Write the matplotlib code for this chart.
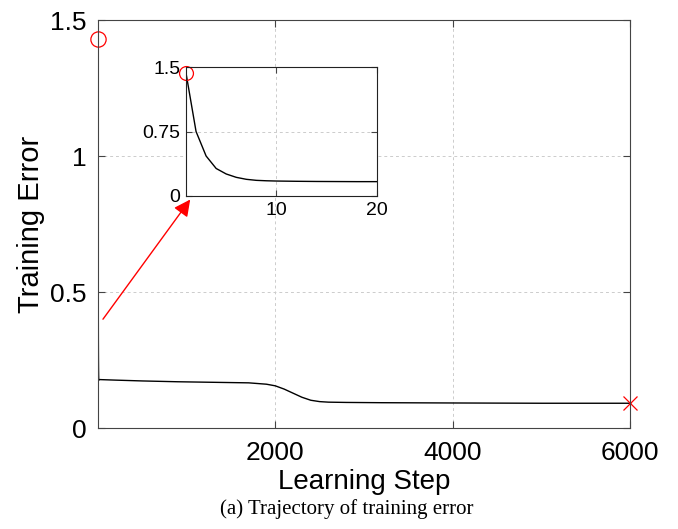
import matplotlib.pyplot as plt

# training error over the full run (readings at selected steps)
steps = [1, 2, 3, 4, 5, 6, 7, 8, 10, 20, 200, 500, 900, 1300, 1700, 1900, 2000,
         2100, 2200, 2300, 2400, 2500, 2600, 2800, 3200, 4000, 5000, 6000]
error = [1.43, 0.75, 0.465, 0.32, 0.256, 0.217, 0.194, 0.182, 0.176, 0.178, 0.176, 0.173,
         0.170, 0.168, 0.166, 0.161, 0.155, 0.143, 0.128, 0.113, 0.102, 0.097, 0.095,
         0.094, 0.093, 0.092, 0.091, 0.091]

# first 20 steps, shown in the inset
zoom_steps = [1, 2, 3, 4, 5, 6, 7, 8, 9, 10, 12, 14, 16, 18, 20]
zoom_error = [1.43, 0.75, 0.465, 0.32, 0.256, 0.217, 0.194, 0.182, 0.177, 0.174,
              0.171, 0.169, 0.168, 0.167, 0.167]

plt.rcParams['font.family'] = ['Liberation Sans', 'DejaVu Sans']

fig = plt.figure(figsize=(6.78, 5.29), dpi=100)
ax = fig.add_axes([98/678, 1 - 428/529, 532/678, 408/529])

ax.plot(steps, error, c="black", lw=1)
ax.plot(steps[0], error[0], "o", mfc="none", mec="red", ms=11, mew=0.9, clip_on=False)
ax.plot(steps[-1], error[-1], "x", c="red", ms=10, mew=0.9, clip_on=False)

ax.set_xlim(0, 6000)
ax.set_ylim(0, 1.5)
ax.set_xticks([2000, 4000, 6000])
ax.set_yticks([0, 0.5, 1, 1.5])
ax.set_yticklabels(["0", "0.5", "1", "1.5"])
ax.grid(True, ls=(0, (3, 3)), c="#cccccc", lw=0.7)
ax.tick_params(axis="both", which="major", labelsize=19, direction="in",
               top=True, right=True, length=5, color="#444444")
ax.tick_params(axis="y", pad=8)
ax.tick_params(axis="x", pad=9)
for s in ax.spines.values():
    s.set_color("#444444")

ax.set_xlabel("Learning Step", fontsize=20, labelpad=3)
ax.set_ylabel("Training Error", fontsize=21, labelpad=4)

ax.annotate("", xy=(1040, 0.84), xytext=(56, 0.40),
            arrowprops=dict(arrowstyle="-|>", color="red", lw=1,
                            mutation_scale=25, shrinkA=0, shrinkB=0))

# inset of the first steps
ins = fig.add_axes([186/678, 1 - 196/529, 191/678, 129/529])
ins.plot(zoom_steps, zoom_error, c="black", lw=1)
ins.plot(zoom_steps[0], zoom_error[0], "o", mfc="none", mec="red", ms=10, mew=0.9, clip_on=False)
ins.set_xlim(1, 20)
ins.set_ylim(0, 1.5)
ins.set_xticks([10, 20])
ins.set_yticks([0, 0.75, 1.5])
ins.set_yticklabels(["0", "0.75", "1.5"])
ins.grid(True, ls=(0, (3, 3)), c="#cccccc", lw=0.7)
ins.tick_params(axis="both", labelsize=14, direction="in", top=True, right=True,
                length=4, color="#444444", pad=4)
for s in ins.spines.values():
    s.set_color("#222222")

fig.text(347/678, 1 - 509/529, "(a) Trajectory of training error", ha="center",
         va="center", fontsize=15, family=["Liberation Serif", "DejaVu Serif"])

fig.savefig("out.png", dpi=100)
